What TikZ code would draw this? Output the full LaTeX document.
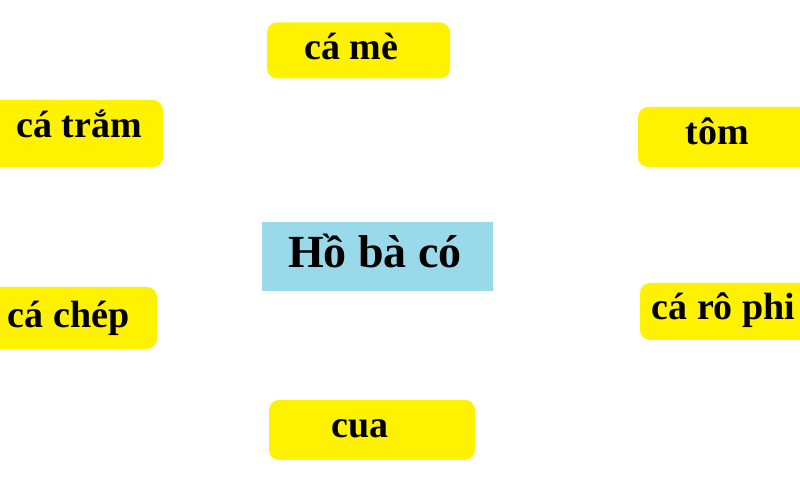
\documentclass[tikz,border=0pt]{standalone}
\usepackage{fontspec}
\setmainfont{Liberation Serif}
\definecolor{boxyellow}{HTML}{FFF200}
\definecolor{boxblue}{HTML}{9AD9EA}
\begin{document}
\begin{tikzpicture}[x=1pt,y=1pt,
  ybox/.style={fill=boxyellow, rounded corners=10pt, inner sep=0pt, text depth=0pt, font=\bfseries\fontsize{38}{40}\selectfont},
  bbox/.style={fill=boxblue, inner sep=0pt, text depth=0pt, font=\bfseries\fontsize{46}{48}\selectfont}]
\useasboundingbox (0,0) rectangle (800,500);
\clip (0,0) rectangle (800,500);
\fill[white] (0,0) rectangle (800,500);
% center
\node[bbox, minimum width=231pt, minimum height=69pt, text height=22pt] (ho) at (377.5,243) {Hồ bà có\hspace*{5pt}};
% yellow boxes
\node[ybox, minimum width=183pt, minimum height=56pt, text height=19pt] (came) at (358.5,449.5) {cá mè\hspace*{14pt}};
\node[ybox, minimum width=183pt, minimum height=67pt, text height=9pt] (catram) at (71.5,366.5) {\hspace*{15pt}cá trắm};
\node[ybox, minimum width=182pt, minimum height=60pt, text height=16pt] (tom) at (729,363) {tôm\hspace*{24pt}};
\node[ybox, minimum width=177pt, minimum height=62pt, text height=20pt] (cachep) at (68.5,182) {cá chép};
\node[ybox, minimum width=180pt, minimum height=57pt, text height=17pt] (carophi) at (730,188.5) {cá rô phi\hspace*{13pt}};
\node[ybox, minimum width=206pt, minimum height=60pt, text height=16pt] (cua) at (372,70) {cua\hspace*{24pt}};
\end{tikzpicture}
\end{document}
